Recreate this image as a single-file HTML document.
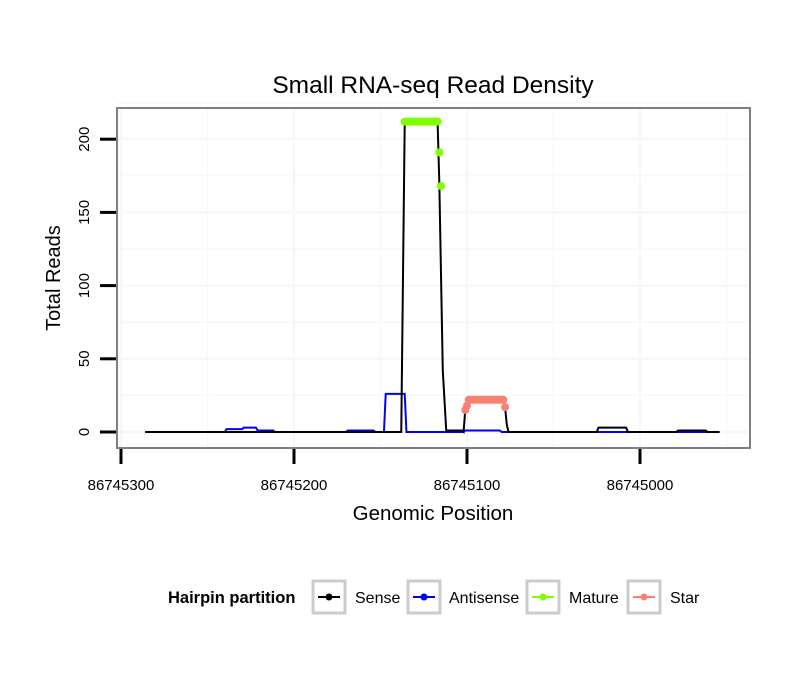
<!DOCTYPE html>
<html><head><meta charset="utf-8"><style>
body{margin:0;background:#fff;font-family:"Liberation Sans",sans-serif}
</style></head><body>
<svg width="810" height="690" font-family="Liberation Sans, sans-serif">
<rect width="810" height="690" fill="#fff"/>
<text x="433" y="93" font-size="24.5" text-anchor="middle">Small RNA-seq Read Density</text>
<g id="grid"></g>
<g id="series"></g>
<rect x="117" y="108" width="633" height="340" fill="none" stroke="#7f7f7f" stroke-width="2"/>
<g id="axes"></g>
<text x="433" y="520" font-size="20.5" text-anchor="middle">Genomic Position</text>
<text transform="translate(60,278) rotate(-90)" font-size="20" text-anchor="middle">Total Reads</text>
<g>
<text x="168" y="603" font-size="16.5" font-weight="bold">Hairpin partition</text>
<g id="legend"></g>
</g>
</svg>
<script>
const xTicks=[86745300,86745200,86745100,86745000];
const yTicks=[0,50,100,150,200];
const senseP=[86745286,86745138,86745136,86745117,86745116,86745114,86745112,86745103,86745102,86745101,86745099,86745079,86745078,86745077,86745076,86745025,86745024,86745008,86745007,86744979,86744978,86744962,86744961,86744954];
const senseV=[0,0,212,212,170,42,1,1,0,15,22,22,17,5,0,0,3,3,0,0,1,1,0,0];
const antiP=[86745286,86745240,86745239,86745230,86745229,86745222,86745221,86745212,86745211,86745170,86745169,86745154,86745153,86745148,86745147,86745136,86745135,86745102,86745101,86745081,86745080,86744954];
const antiV=[0,0,2,2,3,3,1,1,0,0,1,1,0,0,26,26,0,0,1,1,0,0];
const matureP=[];const matureV=[];
for(let p=86745136;p>=86745117;p--){matureP.push(p);matureV.push(212);}
matureP.push(86745116,86745115);matureV.push(191,168);
const starP=[86745101,86745100];const starV=[15,18];
for(let p=86745099;p>=86745079;p--){starP.push(p);starV.push(22);}
starP.push(86745078);starV.push(17);
const NS="http://www.w3.org/2000/svg";
const X=p=>121+(86745300-p)*1.73;
const Y=v=>432-v*1.464;
function mk(t,a,parent){const e=document.createElementNS(NS,t);for(const k in a)e.setAttribute(k,a[k]);document.getElementById(parent).appendChild(e);return e;}
for(let v=0;v<=225;v+=25){const e=mk('line',{x1:117,x2:750,y1:Y(v),y2:Y(v),stroke:'#f7f7f7','stroke-width':v%50?1.2:2.5},'grid');

}
for(let p=86745300;p>=86744950;p-=50){const e=mk('line',{x1:X(p),x2:X(p),y1:108,y2:448,stroke:'#f7f7f7','stroke-width':p%100?1.2:2.5},'grid');

}
xTicks.forEach(p=>{const t=mk('line',{x1:X(p),x2:X(p),y1:449,y2:464,stroke:'#000','stroke-width':3},'axes');


const l=mk('text',{x:X(p),y:490,'font-size':15,'text-anchor':'middle'},'axes');l.textContent=p;

});
yTicks.forEach(v=>{const t=mk('line',{x1:100,x2:116,y1:Y(v),y2:Y(v),stroke:'#000','stroke-width':3},'axes');


const l=mk('text',{transform:`translate(89,${Y(v)}) rotate(-90)`,'font-size':15,'text-anchor':'middle'},'axes');l.textContent=v;

});
function line(P,V,c,name){const e=mk('polyline',{points:P.map((p,i)=>X(p)+','+Y(V[i])).join(' '),fill:'none',stroke:c,'stroke-width':2},'series');

}
function pts(P,V,c,name){P.forEach((p,i)=>{const e=mk('circle',{cx:X(p),cy:Y(V[i]),r:4,fill:c},'series');

});}
line(antiP,antiV,'#0000ff','antisense-line');
line(senseP,senseV,'#000','sense-line');
pts(matureP,matureV,'#7fff00','mature-point');
pts(starP,starV,'#fa8072','star-point');
const leg=[['Sense','#000',313,355],['Antisense','#0000ff',408,449],['Mature','#7fff00',527,569],['Star','#fa8072',628,670]];
leg.forEach(([n,c,x,tx])=>{const g=mk('g',{},'legend');


const ns=(t,a)=>{const e=document.createElementNS(NS,t);for(const k in a)e.setAttribute(k,a[k]);g.appendChild(e);return e;};
ns('rect',{x:x,y:581,width:32,height:32,fill:'#fff',stroke:'#cccccc','stroke-width':3});
ns('line',{x1:x+5,x2:x+27,y1:597,y2:597,stroke:c,'stroke-width':2});
ns('circle',{cx:x+16,cy:597,r:3.5,fill:c});
const t=ns('text',{x:tx,y:603,'font-size':16});t.textContent=n;});
</script>
</body></html>
